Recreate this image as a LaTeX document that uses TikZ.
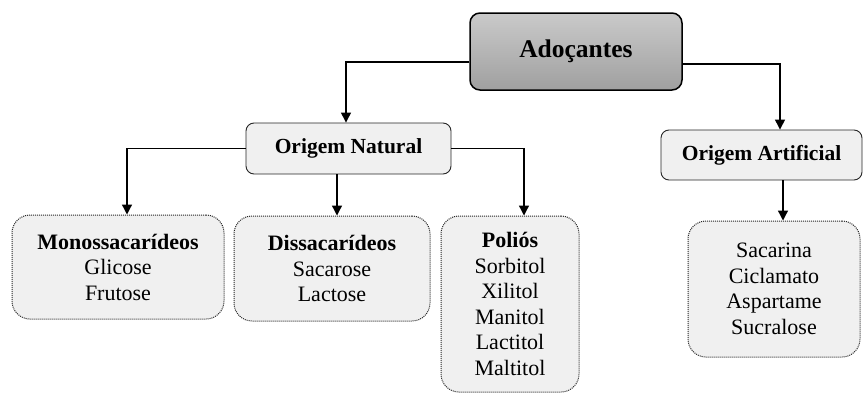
\documentclass[tikz,border=0pt]{standalone}
\usepackage{fontspec}
\setmainfont{Liberation Serif}
\usetikzlibrary{arrows.meta}

\begin{document}
\begin{tikzpicture}[x=1pt,y=-1pt,
    topbox/.style={draw=black,line width=1.5pt,rounded corners=10pt,
      top color=gray!42,bottom color=gray!75,middle color=gray!58,
      inner sep=0pt,font=\fontsize{25.5}{30}\selectfont\bfseries},
    origbox/.style={draw=black!85,line width=0.9pt,rounded corners=8pt,
      fill=black!6,inner sep=0pt,font=\fontsize{21.5}{26}\selectfont\bfseries},
    groupbox/.style={draw=black!85,line width=1pt,densely dotted,
      rounded corners=18pt,fill=black!6,inner sep=0pt,align=center,
      font=\fontsize{22}{25.5}\selectfont},
    link/.style={line width=1.3pt,-{Triangle[length=10pt,width=10pt]}}]
  \useasboundingbox (0,0) rectangle (863,394);
  \node (adoc) at (576,51.5) [topbox,minimum width=212pt,minimum height=77pt] {Adoçantes};
  \node (nat) at (348.5,148.5) [origbox,minimum width=205pt,minimum height=51pt] {Origem Natural};
  \node (art) at (761.5,155) [origbox,minimum width=201pt,minimum height=50pt] {Origem Artificial};
  \node (mono) at (118,267) [groupbox,minimum width=212pt,minimum height=104pt]
    {\textbf{Monossacarídeos}\\Glicose\\Frutose};
  \node (dis) at (332,268.5) [groupbox,minimum width=196pt,minimum height=105pt]
    {\textbf{Dissacarídeos}\\Sacarose\\Lactose};
  \node (pol) at (510,304) [groupbox,minimum width=138pt,minimum height=176pt]
    {\textbf{Poliós}\\Sorbitol\\Xilitol\\Manitol\\Lactitol\\Maltitol};
  \node (swe) at (774,289) [groupbox,minimum width=172pt,minimum height=136pt]
    {Sacarina\\Ciclamato\\Aspartame\\Sucralose};
  \draw[link] ([yshift=-10.5pt]adoc.west) -| ([xshift=-2.5pt]nat.north);
  \draw[link] ([yshift=-12.5pt]adoc.east) -| ([xshift=18.5pt]art.north);
  \draw[link] (nat.west) -| ([xshift=9pt]mono.north);
  \draw[link] ([xshift=-11.5pt]nat.south) -- ([xshift=5pt]dis.north);
  \draw[link] (nat.east) -| ([xshift=14pt]pol.north);
  \draw[link] ([xshift=21.5pt]art.south) -- ([xshift=9pt]swe.north);
\end{tikzpicture}
\end{document}
